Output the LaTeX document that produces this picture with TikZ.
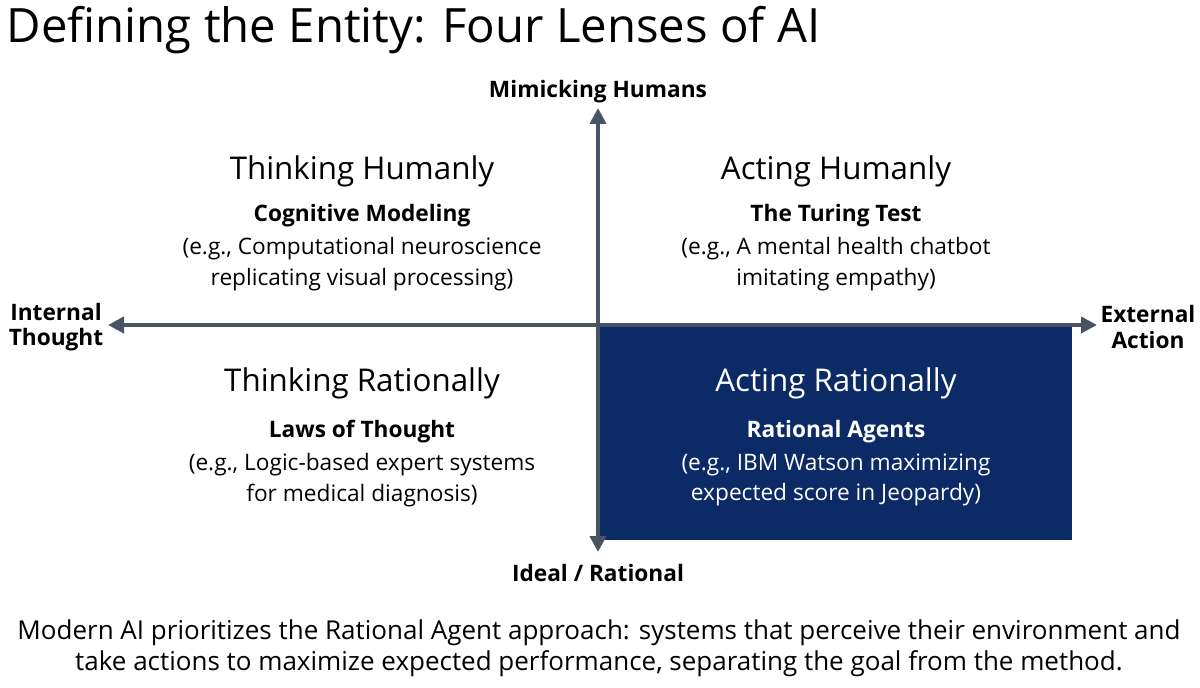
\documentclass[tikz,border=0pt]{standalone}
\usepackage{fontspec}
\setmainfont{Open Sans}
\definecolor{axisgray}{HTML}{4A5361}
\definecolor{navy}{HTML}{0B2A66}
\usetikzlibrary{arrows.meta}
\begin{document}
\begin{tikzpicture}[x=0.75pt,y=-0.75pt,
  quadtitle/.style={font=\fontsize{23.5}{26}\selectfont, text=black},
  quadsub/.style={font=\fontsize{17}{19}\selectfont\bfseries},
  quadbody/.style={font=\fontsize{17}{23}\selectfont, align=center},
  axislabel/.style={font=\fontsize{17}{19}\selectfont\bfseries, align=center},
  axis/.style={draw=axisgray, line width=3pt, -{Triangle[length=12pt,width=12pt]}}]
\useasboundingbox (0,0) rectangle (1200,688);
% lens box
\fill[navy] (598,325) rectangle (1072,540);
% axes
\coordinate (O) at (598,325);
\coordinate (up) at (598,108);
\coordinate (down) at (598,552);
\coordinate (left) at (108,325);
\coordinate (right) at (1097,325);
\draw[axis] (O) -- (up);
\draw[axis] (O) -- (down);
\draw[axis] (O) -- (left);
\draw[axis] (O) -- (right);
% axis labels
\node[axislabel] (mimic) at (598,92) {Mimicking Humans};
\node[axislabel] (ideal) at (598,573) {Ideal / Rational};
\node[axislabel] (internal) at (56,327) {Internal\\Thought};
\node[axislabel] (external) at (1148,327) {External\\Action};
% title
\node[anchor=west, font=\fontsize{35.5}{38}\selectfont] (title) at (2,30) {Defining the Entity: Four Lenses of AI};
% quadrants
\node[quadtitle] (thT) at (362,171) {Thinking Humanly};
\node[quadsub] (thS) at (362,216) {Cognitive Modeling};
\node[quadbody] (thB) at (362,264) {(e.g., Computational neuroscience\\replicating visual processing)};
\node[quadtitle] (ahT) at (836,171) {Acting Humanly};
\node[quadsub] (ahS) at (836,216) {The Turing Test};
\node[quadbody] (ahB) at (836,264) {(e.g., A mental health chatbot\\imitating empathy)};
\node[quadtitle] (trT) at (362,383) {Thinking Rationally};
\node[quadsub] (trS) at (362,432) {Laws of Thought};
\node[quadbody] (trB) at (362,480) {(e.g., Logic-based expert systems\\for medical diagnosis)};
\node[quadtitle, text=white] (arT) at (836,383) {Acting Rationally};
\node[quadsub, text=white] (arS) at (836,432) {Rational Agents};
\node[quadbody, text=white] (arB) at (836,480) {(e.g., IBM Watson maximizing\\expected score in Jeopardy)};
% footer
\node[font=\fontsize{19.5}{23.5}\selectfont, align=center] (note) at (599,648) {Modern AI prioritizes the Rational Agent approach: systems that perceive their environment and\\take actions to maximize expected performance, separating the goal from the method.};
\end{tikzpicture}
\end{document}
